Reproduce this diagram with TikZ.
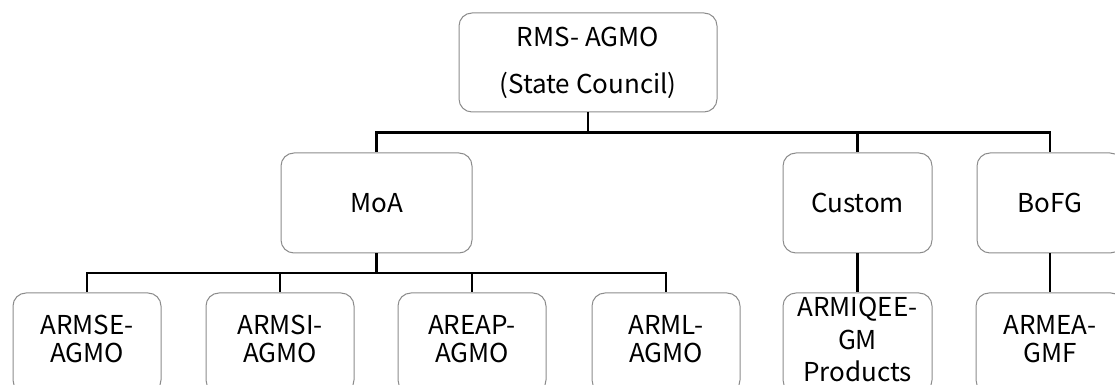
\documentclass[tikz,border=0pt]{standalone}
\usepackage{fontspec}
\setmainfont{Noto Sans CJK SC}
\usetikzlibrary{calc}
\definecolor{cedge}{HTML}{8C8C8C}
\definecolor{clink}{HTML}{000000}
\tikzset{
  box/.style={draw=cedge, line width=1pt, rounded corners=13pt, fill=white, align=center, minimum height=100pt, inner sep=2pt, font=\fontsize{26}{28.5}\selectfont},
  link/.style={line width=2.2pt, draw=clink},
  elbow/.style={link, to path={(\tikztostart) |- ($(\tikztostart)!0.5!(\tikztotarget)$) -| (\tikztotarget)}},
}
\begin{document}
\begin{tikzpicture}[x=1pt,y=1pt]
\useasboundingbox (0,0) rectangle (1115,385);
% council and ministries
\node[box, minimum width=258pt, minimum height=99pt, font=\fontsize{26}{47}\selectfont] (rms) at (588,322.5) {RMS- AGMO\\(State Council)};
\node[box, minimum width=191pt] (moa) at (376.5,182) {MoA};
\node[box, minimum width=149pt] (custom) at (857.5,182) {Custom};
\node[box, minimum width=146pt] (bofg) at (1050,182) {BoFG};
% agencies
\foreach \n/\x/\t in {armse/87/{ARMSE-\\AGMO}, armsi/280/{ARMSI-\\AGMO}, areap/472/{AREAP-\\AGMO}, arml/666/{ARML-\\AGMO}, armea/1050/{ARMEA-\\GMF}}{
  \node[box, minimum width=148pt, text depth=8pt] (\n) at (\x,42) {\t};
}
\node[box, minimum width=149pt, text depth=7pt, font=\fontsize{26}{32.5}\selectfont] (armiqee) at (857.5,42) {ARMIQEE-\\GM\\Products};
% connectors
\foreach \c in {moa,custom,bofg} \draw[elbow] (rms.south) to (\c.north);
\foreach \c in {armse,armsi,areap,arml} \draw[elbow] (moa.south) to (\c.north);
\draw[link] (custom.south) -- (armiqee.north);
\draw[link] (bofg.south) -- (armea.north);
\end{tikzpicture}
\end{document}
